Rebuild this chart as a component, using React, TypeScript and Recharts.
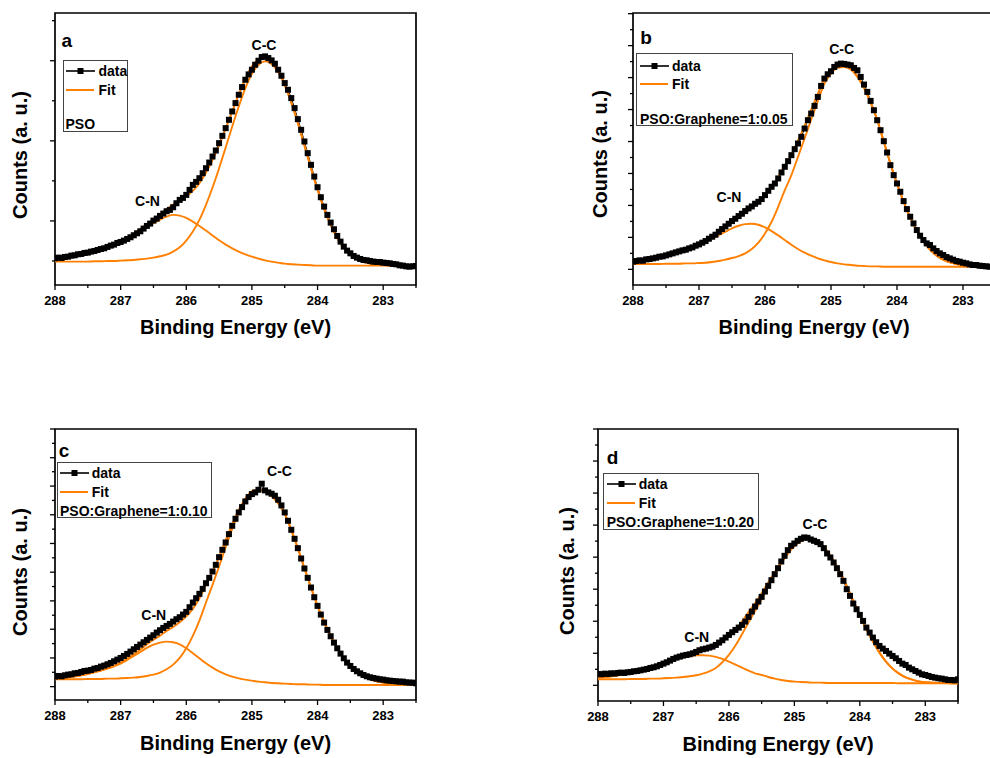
import React from "react";
import { LineChart, Line, XAxis, YAxis, ReferenceArea } from "recharts";

const FONT = '"Liberation Sans", Arial, Helvetica, sans-serif';
const ORANGE = "#ff8000";

// binding energy grid of the measured points (eV)
const energyGrid = [
  288, 287.95, 287.9, 287.85, 287.8, 287.75, 287.7, 287.65, 287.6, 287.55,
  287.5, 287.45, 287.4, 287.35, 287.3, 287.25, 287.2, 287.15, 287.1, 287.05,
  287, 286.95, 286.9, 286.85, 286.8, 286.75, 286.7, 286.65, 286.6, 286.55,
  286.5, 286.45, 286.4, 286.35, 286.3, 286.25, 286.2, 286.15, 286.1, 286.05,
  286, 285.95, 285.9, 285.85, 285.8, 285.75, 285.7, 285.65, 285.6, 285.55,
  285.5, 285.45, 285.4, 285.35, 285.3, 285.25, 285.2, 285.15, 285.1, 285.05,
  285, 284.95, 284.9, 284.85, 284.8, 284.75, 284.7, 284.65, 284.6, 284.55,
  284.5, 284.45, 284.4, 284.35, 284.3, 284.25, 284.2, 284.15, 284.1, 284.05,
  284, 283.95, 283.9, 283.85, 283.8, 283.75, 283.7, 283.65, 283.6, 283.55,
  283.5, 283.45, 283.4, 283.35, 283.3, 283.25, 283.2, 283.15, 283.1, 283.05,
  283, 282.95, 282.9, 282.85, 282.8, 282.75, 282.7, 282.65, 282.6, 282.55,
  282.5,
];

// energy grid of the fitted curves (eV)
const fitGrid = [
  288, 287.9, 287.8, 287.7, 287.6, 287.5, 287.4, 287.3, 287.2, 287.1,
  287, 286.9, 286.8, 286.7, 286.6, 286.5, 286.4, 286.3, 286.2, 286.1,
  286, 285.9, 285.8, 285.7, 285.6, 285.5, 285.4, 285.3, 285.2, 285.1,
  285, 284.9, 284.8, 284.7, 284.6, 284.5, 284.4, 284.3, 284.2, 284.1,
  284, 283.9, 283.8, 283.7, 283.6, 283.5, 283.4, 283.3, 283.2, 283.1,
  283, 282.9, 282.8, 282.7, 282.6, 282.5,
];

const xTicks = [288, 287.5, 287, 286.5, 286, 285.5, 285, 284.5, 284, 283.5, 283, 282.5];

// ---- panel a: PSO ----
const dataA = [
  80, 82, 81, 84, 85, 88, 89, 92, 93, 96,
  97, 100, 102, 105, 108, 110, 114, 118, 121, 126,
  129, 133, 138, 143, 149, 155, 161, 169, 177, 184,
  193, 199, 207, 214, 221, 225, 233, 245, 255, 261,
  270, 285, 300, 309, 320, 335, 350, 367, 385, 403,
  425, 447, 470, 495, 520, 545, 570, 593, 615, 631,
  645, 660, 672, 683, 685, 680, 673, 663, 645, 627,
  605, 585, 560, 530, 497, 465, 430, 395, 360, 325,
  293, 263, 235, 210, 187, 167, 147, 130, 115, 103,
  95, 87, 82, 78, 75, 74, 72, 70, 69, 69,
  67, 66, 65, 63, 62, 59, 58, 56, 55, 56,
  57,
];
const fitA = [
  77, 79, 82, 85, 89, 93, 99, 105, 113, 121,
  131, 142, 154, 168, 182, 197, 212, 227, 241, 252,
  266, 282, 305, 336, 374, 418, 468, 520, 571, 618,
  655, 676, 682, 670, 644, 601, 548, 486, 419, 350,
  286, 228, 180, 141, 111, 90, 77, 69, 64, 61,
  60, 59, 58, 58, 57, 57,
];
const cnA = [
  77, 79, 82, 85, 89, 93, 98, 104, 111, 119,
  128, 138, 149, 161, 173, 185, 196, 205, 210, 208,
  201, 190, 177, 163, 148, 134, 121, 110, 100, 92,
  85, 79, 74, 70, 67, 64, 62, 61, 60, 59,
  58, 58, 58, 58, 58, 58, 58, 58, 58, 58,
  58, 58, 58, 58, 58, 58,
];
const ccA = [
  70, 70, 70, 70, 70, 70, 71, 71, 72, 72,
  73, 74, 75, 77, 79, 82, 86, 91, 100, 113,
  133, 160, 195, 240, 292, 350, 412, 475, 535, 590,
  633, 660, 670, 662, 638, 598, 546, 485, 418, 350,
  286, 228, 180, 141, 111, 90, 77, 69, 64, 61,
  60, 59, 58, 58, 57, 57,
];

// ---- panel b: PSO:Graphene=1:0.05 ----
const dataB = [
  70, 72, 74, 73, 77, 78, 80, 82, 85, 86,
  89, 92, 95, 98, 101, 104, 106, 110, 113, 118,
  122, 127, 132, 139, 145, 151, 160, 168, 176, 184,
  192, 199, 207, 214, 222, 230, 236, 244, 250, 258,
  270, 283, 295, 305, 320, 338, 355, 372, 390, 408,
  425, 445, 470, 495, 515, 538, 565, 598, 620, 633,
  642, 655, 662, 665, 664, 662, 660, 652, 645, 625,
  602, 580, 553, 525, 495, 465, 432, 398, 360, 330,
  305, 280, 252, 228, 205, 185, 165, 148, 135, 125,
  120, 110, 102, 95, 90, 84, 80, 76, 72, 70,
  67, 65, 62, 60, 60, 58, 57, 56, 55, 55,
  54,
];
const fitB = [
  68, 71, 74, 78, 82, 88, 93, 99, 107, 114,
  123, 133, 145, 159, 174, 189, 203, 216, 231, 247,
  267, 292, 324, 360, 392, 434, 478, 527, 574, 621,
  646, 660, 660, 650, 627, 593, 548, 496, 430, 365,
  305, 250, 203, 163, 131, 106, 88, 76, 68, 63,
  60, 58, 57, 56, 55, 55,
];
const cnB = [
  68, 71, 74, 78, 82, 87, 92, 98, 105, 112,
  120, 129, 139, 150, 160, 170, 178, 183, 184, 181,
  173, 162, 149, 135, 121, 108, 97, 88, 80, 74,
  69, 65, 62, 60, 58, 57, 56, 56, 55, 55,
  55, 55, 55, 55, 55, 55, 55, 55, 55, 55,
  55, 55, 55, 55, 55, 55,
];
const ccB = [
  63, 63, 63, 63, 63, 64, 64, 64, 65, 65,
  66, 67, 69, 72, 76, 81, 87, 95, 108, 127,
  155, 190, 235, 285, 330, 385, 440, 497, 552, 605,
  635, 652, 655, 647, 625, 592, 548, 496, 430, 365,
  305, 250, 203, 163, 131, 106, 88, 76, 68, 63,
  60, 58, 57, 56, 55, 55,
];

// ---- panel c: PSO:Graphene=1:0.10 ----
const dataC = [
  70, 72, 71, 74, 76, 77, 80, 81, 84, 87,
  88, 90, 94, 96, 100, 103, 107, 111, 116, 121,
  126, 132, 138, 145, 152, 159, 166, 173, 180, 187,
  194, 202, 209, 216, 222, 228, 235, 242, 248, 256,
  264, 278, 292, 305, 318, 333, 350, 366, 385, 405,
  428, 450, 472, 497, 522, 543, 562, 578, 595, 608,
  617, 622, 630, 648, 628, 622, 618, 612, 600, 583,
  562, 537, 510, 483, 455, 424, 394, 366, 337, 308,
  282, 256, 232, 210, 191, 172, 155, 139, 125, 112,
  102, 93, 86, 80, 75, 71, 68, 66, 64, 62,
  61, 59, 58, 57, 56, 55, 55, 53, 52, 52,
  50,
];
const fitC = [
  64, 66, 68, 71, 74, 79, 84, 89, 96, 103,
  112, 124, 137, 151, 167, 181, 193, 207, 219, 233,
  251, 273, 305, 344, 385, 429, 479, 527, 570, 603,
  626, 629, 625, 611, 589, 557, 509, 454, 395, 337,
  282, 234, 192, 155, 125, 102, 84, 71, 62, 56,
  52, 49, 47, 46, 45, 45,
];
const cnC = [
  64, 66, 68, 71, 74, 78, 83, 88, 94, 101,
  109, 120, 132, 144, 156, 166, 172, 175, 173, 167,
  155, 140, 125, 110, 97, 86, 77, 70, 65, 61,
  58, 55, 53, 51, 50, 49, 48, 47, 47, 46,
  46, 45, 45, 45, 45, 45, 45, 45, 45, 45,
  45, 45, 45, 45, 45, 45,
];
const ccC = [
  62, 62, 62, 62, 62, 63, 63, 63, 64, 64,
  65, 66, 67, 69, 72, 76, 82, 92, 106, 126,
  155, 192, 238, 292, 345, 400, 458, 513, 560, 597,
  622, 628, 625, 612, 590, 558, 510, 455, 395, 337,
  282, 234, 192, 155, 125, 102, 84, 71, 62, 56,
  52, 49, 47, 46, 45, 45,
];

// ---- panel d: PSO:Graphene=1:0.20 ----
const dataD = [
  81, 80, 82, 81, 83, 82, 84, 85, 84, 86,
  87, 89, 90, 92, 94, 96, 99, 101, 104, 108,
  112, 116, 121, 126, 130, 133, 136, 138, 140, 143,
  147, 152, 155, 157, 160, 163, 168, 175, 182, 190,
  198, 206, 213, 220, 228, 238, 252, 268, 283, 298,
  312, 328, 345, 362, 380, 398, 418, 435, 452, 465,
  472, 480, 486, 490, 489, 484, 480, 476, 470, 458,
  442, 430, 415, 398, 380, 360, 335, 315, 292, 275,
  258, 240, 220, 205, 190, 176, 165, 157, 150, 142,
  135, 128, 120, 112, 108, 100, 95, 90, 85, 80,
  78, 75, 72, 70, 68, 67, 65, 63, 63, 62,
  65,
];
const fitD = [
  70, 72, 74, 77, 80, 85, 90, 95, 102, 108,
  116, 123, 130, 137, 144, 150, 155, 162, 168, 179,
  194, 213, 239, 266, 293, 323, 355, 386, 417, 443,
  465, 479, 487, 485, 472, 449, 420, 385, 345, 300,
  257, 215, 178, 145, 118, 97, 82, 71, 64, 59,
  56, 55, 54, 54, 53, 53,
];
const cnD = [
  70, 72, 74, 77, 80, 84, 89, 94, 100, 106,
  113, 119, 125, 130, 134, 137, 137, 136, 132, 126,
  118, 109, 100, 91, 83, 78, 72, 67, 63, 60,
  58, 57, 56, 55, 55, 54, 54, 54, 54, 54,
  54, 54, 54, 54, 54, 54, 53, 53, 53, 53,
  53, 53, 53, 53, 53, 53,
];
const ccD = [
  65, 65, 65, 65, 65, 66, 66, 66, 67, 67,
  68, 69, 70, 72, 74, 77, 82, 89, 99, 116,
  138, 166, 200, 236, 270, 305, 342, 378, 412, 441,
  464, 479, 487, 486, 472, 450, 420, 385, 345, 300,
  257, 215, 178, 145, 118, 97, 82, 71, 64, 59,
  56, 55, 54, 54, 53, 53,
];

// y ticks (arbitrary counts), long and short marks
const yMajorA = [192, 432, 672];
const yMinorA = [72, 312, 552, 792];
const yMajorB = [47, 143, 239, 335, 431, 527, 623, 719, 815];
const yMinorB = [95, 191, 287, 383, 479, 575, 671, 767];
const yMajorC = [40, 126, 212, 297, 383, 469, 555, 641, 726, 812];
const yMinorC = [83, 169, 254, 340, 426, 512, 598, 684, 769];
const yMajorD = [47, 143, 239, 335, 431, 527, 623, 719, 815];
const yMinorD = [95, 191, 287, 383, 479, 575, 671, 767];

// inner ticks on the top and right frame
const topTicksA = [285];
const rightTicksA = [363, 771];
const topTicksB = [287, 285];
const rightTicksB = [383];
const topTicksC = [285];
const rightTicksC = [381];
const topTicksD = [285];
const rightTicksD = [383];

type Pt = [number, number];

interface PanelCfg {
  letter: string;
  sample: string;
  data: number[];
  fit: number[];
  cn: number[];
  cc: number[];
  yMax: number;
  yMajor: number[];
  yMinor: number[];
  topTicks: number[];
  rightTicks: number[];
  plot: { l: number; t: number; r: number; b: number };
  letterPos: Pt;
  ccPos: Pt;
  cnPos: Pt;
  xTitle: Pt;
  yTitle: Pt;
  legend: { x: number; y: number; w: number; h: number; rows: number[]; sampleX: number; textX: number };
}

const panels: PanelCfg[] = [
  {
    letter: "a", sample: "PSO", data: dataA, fit: fitA, cn: cnA, cc: ccA,
    yMax: 815, yMajor: yMajorA, yMinor: yMinorA, topTicks: topTicksA, rightTicks: rightTicksA,
    plot: { l: 55, t: 13, r: 416, b: 285 },
    letterPos: [66.7, 40.1], ccPos: [264, 44.7], cnPos: [147.5, 201.3],
    xTitle: [235.5, 326.7], yTitle: [20, 155],
    legend: { x: 63, y: 60, w: 65, h: 72, rows: [70, 89, 123], sampleX: 64.5, textX: 97.5 },
  },
  {
    letter: "b", sample: "PSO:Graphene=1:0.05", data: dataB, fit: fitB, cn: cnB, cc: ccB,
    yMax: 817, yMajor: yMajorB, yMinor: yMinorB, topTicks: topTicksB, rightTicks: rightTicksB,
    plot: { l: 633, t: 13, r: 996, b: 285 },
    letterPos: [646, 36.7], ccPos: [841.7, 49.2], cnPos: [729, 196.7],
    xTitle: [814, 327.4], yTitle: [600, 154],
    legend: { x: 636, y: 53, w: 157, h: 73, rows: [65, 82.5, 118], sampleX: 639, textX: 671 },
  },
  {
    letter: "c", sample: "PSO:Graphene=1:0.10", data: dataC, fit: fitC, cn: cnC, cc: ccC,
    yMax: 812, yMajor: yMajorC, yMinor: yMinorC, topTicks: topTicksC, rightTicks: rightTicksC,
    plot: { l: 55, t: 429, r: 416, b: 700 },
    letterPos: [64, 450.1], ccPos: [279.5, 470.8], cnPos: [153.8, 615],
    xTitle: [235.5, 743.4], yTitle: [20, 571.5],
    legend: { x: 57, y: 462, w: 155, h: 56, rows: [471.7, 490.7, 510], sampleX: 59, textX: 90.7 },
  },
  {
    letter: "d", sample: "PSO:Graphene=1:0.20", data: dataD, fit: fitD, cn: cnD, cc: ccD,
    yMax: 815, yMajor: yMajorD, yMinor: yMinorD, topTicks: topTicksD, rightTicks: rightTicksD,
    plot: { l: 598, t: 429, r: 958, b: 701 },
    letterPos: [612.5, 456.7], ccPos: [815, 524.3], cnPos: [696.8, 636.7],
    xTitle: [778, 743.8], yTitle: [567, 571],
    legend: { x: 603, y: 473, w: 156, h: 57, rows: [483.3, 501.7, 520.7], sampleX: 605.7, textX: 637.7 },
  },
];

const XTick = (props: any) => {
  const { x, y, payload } = props;
  const major = Number.isInteger(payload.value);
  return (
    <g>
      <line x1={x} x2={x} y1={y} y2={y + (major ? 5 : 3)} stroke="#000" strokeWidth={1.3} />
      {major && (
        <text x={x} y={y + 20} textAnchor="middle" fontFamily={FONT} fontWeight="bold" fontSize={13} fill="#000">
          {payload.value}
        </text>
      )}
    </g>
  );
};

const makeYTick = (majors: number[]) => (props: any) => {
  const { x, y, payload } = props;
  const len = majors.includes(payload.value) ? 5 : 3;
  return <line x1={x} x2={x - len} y1={y} y2={y} stroke="#000" strokeWidth={1.3} />;
};

const squareDot = (p: any) => (
  <rect key={`sq-${p.index}`} x={p.cx - 3} y={p.cy - 3} width={6} height={6} fill="#000" />
);

const Txt = ({ pos, size, children, rotate }: { pos: Pt; size: number; children: React.ReactNode; rotate?: boolean }) => (
  <div
    style={{
      position: "absolute",
      left: pos[0],
      top: pos[1],
      transform: `translate(-50%, -50%)${rotate ? " rotate(-90deg)" : ""}`,
      whiteSpace: "nowrap",
      fontFamily: FONT,
      fontWeight: 700,
      fontSize: size,
      lineHeight: 1,
      color: "#000",
    }}
  >
    {children}
  </div>
);

function Legend({ cfg }: { cfg: PanelCfg }) {
  const lg = cfg.legend;
  const row = (y: number, content: React.ReactNode, left: number) => (
    <div style={{ position: "absolute", left: left - lg.x, top: y - lg.y, transform: "translateY(-50%)", lineHeight: 1, whiteSpace: "nowrap" }}>
      {content}
    </div>
  );
  return (
    <div
      style={{
        position: "absolute",
        left: lg.x,
        top: lg.y,
        width: lg.w,
        height: lg.h,
        boxSizing: "border-box",
        border: "1px solid #444",
        background: "#fff",
        fontFamily: FONT,
        fontWeight: 700,
        fontSize: 14,
        color: "#000",
      }}
    >
      {row(
        lg.rows[0],
        <svg width={29} height={8} style={{ display: "block" }}>
          <line x1={0} x2={29} y1={4} y2={4} stroke="#000" strokeWidth={1.6} />
          <rect x={11.5} y={1} width={6} height={6} fill="#000" />
        </svg>,
        lg.sampleX
      )}
      {row(lg.rows[0], "data", lg.textX)}
      {row(
        lg.rows[1],
        <svg width={28} height={4} style={{ display: "block" }}>
          <line x1={0} x2={28} y1={2} y2={2} stroke={ORANGE} strokeWidth={2} />
        </svg>,
        lg.sampleX
      )}
      {row(lg.rows[1], "Fit", lg.textX)}
      {row(lg.rows[2], cfg.sample, lg.sampleX)}
    </div>
  );
}

function Panel({ cfg }: { cfg: PanelCfg }) {
  const { plot } = cfg;
  const left = plot.l - 55;
  const top = plot.t - 13;
  const width = plot.r - plot.l + 79;
  const height = plot.b - plot.t + 73;
  const dataRows = energyGrid.map((e, i) => ({ e, v: cfg.data[i] }));
  const fitRows = fitGrid.map((e, i) => ({ e, fit: cfg.fit[i], cn: cfg.cn[i], cc: cfg.cc[i] }));
  const yTicks = [...cfg.yMajor, ...cfg.yMinor].sort((a, b) => a - b);
  const frameTick = { stroke: "#000", strokeWidth: 1.3 };

  return (
    <>
      <div style={{ position: "absolute", left, top }}>
        <LineChart width={width} height={height} margin={{ top: 13, right: 24, bottom: 30, left: 10 }}>
          <XAxis
            type="number"
            dataKey="e"
            domain={[282.5, 288]}
            reversed
            allowDataOverflow
            ticks={xTicks}
            interval={0}
            tick={XTick}
            tickLine={false}
            axisLine={false}
            tickSize={0}
            tickMargin={0}
            height={30}
          />
          <XAxis
            xAxisId="top"
            orientation="top"
            type="number"
            dataKey="e"
            domain={[282.5, 288]}
            reversed
            allowDataOverflow
            ticks={cfg.topTicks}
            interval={0}
            mirror
            tickFormatter={() => ""}
            tickLine={frameTick}
            axisLine={false}
            tickSize={4}
            height={0}
          />
          <YAxis
            type="number"
            domain={[0, cfg.yMax]}
            allowDataOverflow
            ticks={yTicks}
            interval={0}
            tick={makeYTick(cfg.yMajor)}
            tickLine={false}
            axisLine={false}
            tickSize={0}
            tickMargin={0}
            width={45}
          />
          <YAxis
            yAxisId="right"
            orientation="right"
            type="number"
            domain={[0, cfg.yMax]}
            allowDataOverflow
            ticks={cfg.rightTicks}
            interval={0}
            mirror
            tickFormatter={() => ""}
            tickLine={frameTick}
            axisLine={false}
            tickSize={4}
            width={0}
          />
          <ReferenceArea x1={288} x2={282.5} y1={0} y2={cfg.yMax} fill="none" stroke="#000" strokeWidth={1.7} />
          <Line
            data={dataRows}
            dataKey="v"
            type="linear"
            stroke="#000"
            strokeWidth={1}
            dot={squareDot}
            activeDot={false}
            isAnimationActive={false}
          />
          <Line data={fitRows} dataKey="cn" type="monotone" stroke={ORANGE} strokeWidth={1.9} dot={false} isAnimationActive={false} />
          <Line data={fitRows} dataKey="cc" type="monotone" stroke={ORANGE} strokeWidth={1.9} dot={false} isAnimationActive={false} />
          <Line data={fitRows} dataKey="fit" type="monotone" stroke={ORANGE} strokeWidth={1.9} dot={false} isAnimationActive={false} />
        </LineChart>
      </div>
      <Txt pos={cfg.letterPos} size={19}>{cfg.letter}</Txt>
      <Txt pos={cfg.ccPos} size={14}>C-C</Txt>
      <Txt pos={cfg.cnPos} size={14}>C-N</Txt>
      <Txt pos={cfg.xTitle} size={20}>Binding Energy (eV)</Txt>
      <Txt pos={cfg.yTitle} size={20} rotate>Counts (a. u.)</Txt>
      <Legend cfg={cfg} />
    </>
  );
}

export default function App() {
  return (
    <div
      style={{
        position: "absolute",
        left: 0,
        top: 0,
        width: 990,
        height: 758,
        overflow: "hidden",
        background: "#fff",
      }}
    >
      {panels.map((p) => (
        <Panel key={p.letter} cfg={p} />
      ))}
    </div>
  );
}
